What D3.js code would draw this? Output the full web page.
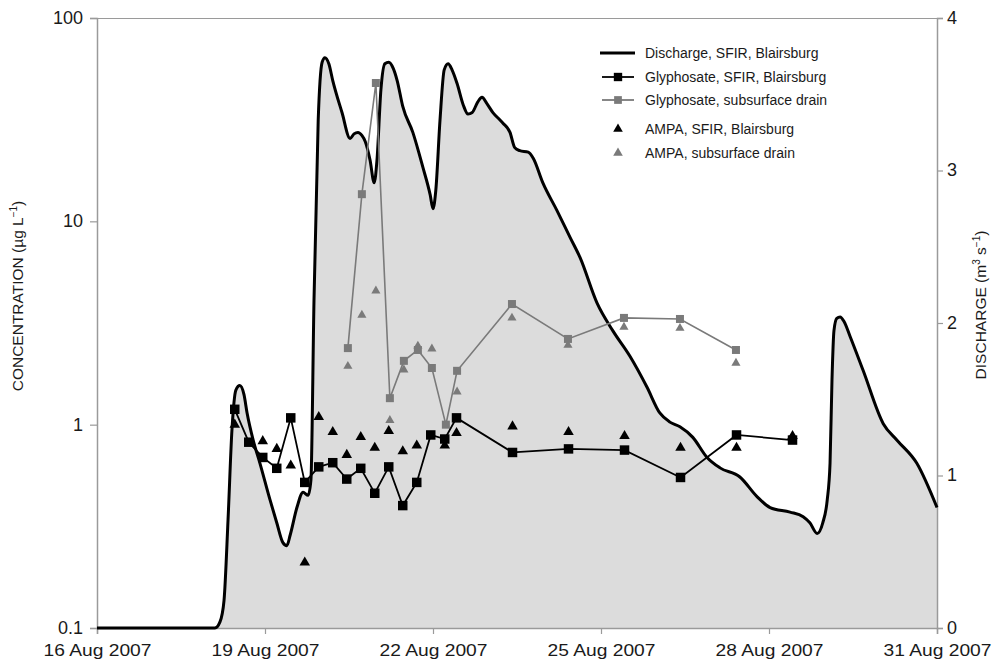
<!DOCTYPE html>
<html>
<head>
<meta charset="utf-8">
<script src="https://cdn.jsdelivr.net/npm/d3@7"></script>
<style>
  html, body { margin: 0; padding: 0; background: #fff; }
  svg { display: block; font-family: "Liberation Sans", Arial, sans-serif; }
</style>
</head>
<body>
<svg id="chart" width="996" height="661"></svg>
<script>
// ---------- DATA (time = days after 16 Aug 2007 00:00) ----------
const xTickDates = ["2007-08-16", "2007-08-19", "2007-08-22", "2007-08-25", "2007-08-28", "2007-08-31"];
const concTicks = [0.1, 1, 10, 100];
const dischargeTicks = [0, 1, 2, 3, 4];

const dischargeDay = [0, 2.107, 2.196, 2.268, 2.34, 2.41, 2.48, 2.55, 2.625, 2.68, 2.79, 2.91, 3.09, 3.21, 3.32, 3.39, 3.45, 3.57, 3.68, 3.77, 3.82, 3.875, 3.95, 4.02, 4.07, 4.14, 4.21, 4.375, 4.52, 4.59, 4.66, 4.73, 4.79, 4.875, 4.95, 5.0, 5.07, 5.14, 5.21, 5.29, 5.36, 5.46, 5.64, 5.82, 5.95, 6.0, 6.05, 6.125, 6.2, 6.27, 6.34, 6.43, 6.54, 6.625, 6.7, 6.8, 6.875, 6.96, 7.07, 7.2, 7.25, 7.375, 7.46, 7.55, 7.70, 7.79, 7.96, 8.21, 8.45, 8.625, 8.93, 9.21, 9.52, 9.82, 10.05, 10.23, 10.41, 10.64, 10.89, 11.125, 11.48, 11.79, 12.02, 12.375, 12.61, 12.73, 12.86, 12.96, 13.04, 13.09, 13.125, 13.16, 13.21, 13.27, 13.34, 13.45, 13.68, 14.04, 14.29, 14.64, 15.0];
const dischargeQ = [0, 0, 0.04, 0.18, 0.71, 1.30, 1.56, 1.59, 1.53, 1.41, 1.23, 1.08, 0.84, 0.69, 0.56, 0.54, 0.61, 0.79, 0.89, 0.87, 0.97, 2.15, 3.33, 3.71, 3.74, 3.70, 3.59, 3.38, 3.21, 3.24, 3.25, 3.23, 3.19, 3.07, 2.92, 3.07, 3.53, 3.70, 3.71, 3.67, 3.59, 3.42, 3.25, 3.02, 2.84, 2.75, 2.87, 3.33, 3.66, 3.70, 3.66, 3.57, 3.43, 3.37, 3.38, 3.45, 3.48, 3.44, 3.38, 3.33, 3.31, 3.25, 3.15, 3.13, 3.12, 3.08, 2.92, 2.74, 2.56, 2.43, 2.13, 1.95, 1.78, 1.58, 1.41, 1.35, 1.32, 1.25, 1.12, 1.05, 0.99, 0.86, 0.79, 0.76, 0.73, 0.69, 0.62, 0.69, 0.84, 1.08, 1.63, 1.95, 2.03, 2.04, 2.01, 1.91, 1.69, 1.34, 1.23, 1.08, 0.79];

const glySfirDay = [2.46, 2.71, 2.96, 3.21, 3.46, 3.71, 3.96, 4.21, 4.46, 4.71, 4.96, 5.21, 5.46, 5.71, 5.96, 6.21, 6.42, 7.42, 8.42, 9.42, 10.42, 11.42, 12.42];
const glySfirConc = [1.19, 0.82, 0.69, 0.61, 1.08, 0.52, 0.62, 0.65, 0.54, 0.61, 0.46, 0.62, 0.40, 0.52, 0.89, 0.85, 1.08, 0.73, 0.76, 0.75, 0.55, 0.89, 0.84];

const glyDrainDay = [4.48, 4.73, 4.98, 5.23, 5.48, 5.73, 5.98, 6.23, 6.43, 7.41, 8.41, 9.41, 10.41, 11.41];
const glyDrainConc = [2.38, 13.6, 47.9, 1.35, 2.06, 2.33, 1.90, 1.0, 1.84, 3.92, 2.64, 3.35, 3.31, 2.33];

const ampaSfirDay = [2.46, 2.96, 3.21, 3.46, 3.71, 3.96, 4.21, 4.46, 4.71, 4.96, 5.21, 5.46, 5.71, 6.21, 6.42, 7.42, 8.42, 9.42, 10.42, 11.42, 12.42];
const ampaSfirConc = [1.0, 0.83, 0.76, 0.63, 0.21, 1.09, 0.92, 0.71, 0.87, 0.77, 0.93, 0.74, 0.79, 0.79, 0.91, 0.98, 0.92, 0.88, 0.77, 0.77, 0.88];

const ampaDrainDay = [4.48, 4.73, 4.98, 5.23, 5.48, 5.73, 5.98, 6.43, 7.41, 8.41, 9.41, 10.41, 11.41];
const ampaDrainConc = [1.94, 3.46, 4.55, 1.05, 1.86, 2.44, 2.36, 1.45, 3.35, 2.46, 3.02, 2.98, 2.01];

const legendLabels = ["Discharge, SFIR, Blairsburg", "Glyphosate, SFIR, Blairsburg", "Glyphosate, subsurface drain", "AMPA, SFIR, Blairsburg", "AMPA, subsurface drain"];

// ---------- SETUP ----------
const svg = d3.select("#chart");
const L = 97, R = 937, T = 18, B = 628;
const t0 = new Date(2007, 7, 16).getTime();
const toDate = d => new Date(t0 + d * 864e5);
const parse = s => { const p = s.split("-").map(Number); return new Date(p[0], p[1] - 1, p[2]); };

const x = d3.scaleTime().domain([parse(xTickDates[0]), parse(xTickDates[xTickDates.length - 1])]).range([L, R]);
const yC = d3.scaleLog().domain([0.1, 100]).range([B, T]);
const yQ = d3.scaleLinear().domain([0, 4]).range([B, T]);

const axisColor = "#9a9a9a";
const textColor = "#1a1a1a";
const fillGray = "#dcdcdc";
const drainGray = "#7a7a7a";

// ---------- DISCHARGE AREA ----------
const qData = dischargeDay.map((d, i) => ({ t: toDate(d), q: dischargeQ[i] }));
svg.append("path")
  .datum(qData)
  .attr("fill", fillGray)
  .attr("d", d3.area().x(d => x(d.t)).y0(yQ(0)).y1(d => yQ(d.q)).curve(d3.curveMonotoneX));

// frame top line
svg.append("line").attr("x1", L).attr("x2", R).attr("y1", T + 0.5).attr("y2", T + 0.5)
  .attr("stroke", axisColor).attr("stroke-width", 1.2);

// ---------- AXES ----------
function styleAxis(g) {
  g.select(".domain").attr("stroke", axisColor).attr("stroke-width", 1.5);
  g.selectAll(".tick line").attr("stroke", axisColor).attr("stroke-width", 1.2);
  g.selectAll(".tick text").attr("fill", textColor).attr("font-family", "Liberation Sans, Arial, sans-serif");
}

const gx = svg.append("g").attr("transform", `translate(0,${B})`)
  .call(d3.axisBottom(x).tickValues(xTickDates.map(parse)).tickFormat(d3.timeFormat("%-d %b %Y")).tickSizeOuter(0).tickSize(6).tickPadding(10));
styleAxis(gx);
gx.selectAll(".tick text").attr("font-size", 17).attr("dy", "0.72em")
  .attr("textLength", 108).attr("lengthAdjust", "spacingAndGlyphs");

const gl = svg.append("g").attr("transform", `translate(${L},0)`)
  .call(d3.axisLeft(yC).tickValues(concTicks).tickFormat(d => d < 1 ? "0.1" : String(d)).tickSizeOuter(0).tickSize(7).tickPadding(7));
styleAxis(gl);
gl.selectAll(".tick text").attr("font-size", 18).attr("dy", "0.3em");

const gr = svg.append("g").attr("transform", `translate(${R},0)`)
  .call(d3.axisRight(yQ).tickValues(dischargeTicks).tickFormat(d3.format("d")).tickSizeOuter(0).tickSize(6).tickPadding(4));
styleAxis(gr);
gr.selectAll(".tick text").attr("font-size", 18).attr("dy", "0.3em");

// ---------- DISCHARGE LINE ----------
svg.append("path")
  .datum(qData)
  .attr("fill", "none").attr("stroke", "#000").attr("stroke-width", 3).attr("stroke-linejoin", "round")
  .attr("d", d3.line().x(d => x(d.t)).y(d => yQ(d.q)).curve(d3.curveMonotoneX));

// ---------- CONCENTRATION SERIES ----------
const sq = d3.symbol().type(d3.symbolSquare);
const tri = d3.symbol().type(d3.symbolTriangle);

function series(days, vals, color, lineW, symGen, symSize, drawLine) {
  const data = days.map((d, i) => ({ t: toDate(d), c: vals[i] }));
  const g = svg.append("g");
  if (drawLine) {
    g.append("path").datum(data).attr("fill", "none").attr("stroke", color).attr("stroke-width", lineW)
      .attr("d", d3.line().x(d => x(d.t)).y(d => yC(d.c)));
  }
  g.selectAll("path.m").data(data).join("path").attr("class", "m")
    .attr("transform", d => `translate(${x(d.t)},${yC(d.c)})`)
    .attr("d", symGen.size(symSize)())
    .attr("fill", color);
}

series(ampaDrainDay, ampaDrainConc, drainGray, 0, tri, 36, false);
series(glyDrainDay, glyDrainConc, drainGray, 1.6, sq, 64, true);
series(ampaSfirDay, ampaSfirConc, "#000", 0, tri, 48, false);
series(glySfirDay, glySfirConc, "#000", 1.8, sq, 90, true);

// ---------- AXIS TITLES ----------
const lt = svg.append("text").attr("transform", "translate(23,296) rotate(-90)")
  .attr("text-anchor", "middle").attr("font-size", 15.5).attr("fill", textColor);
lt.append("tspan").text("CONCENTRATION (µg L");
lt.append("tspan").attr("font-size", 10).attr("dy", -6).text("−1");
lt.append("tspan").attr("dy", 6).text(")");

const rt = svg.append("text").attr("transform", "translate(986,305) rotate(-90)")
  .attr("text-anchor", "middle").attr("font-size", 15.5).attr("fill", textColor);
rt.append("tspan").text("DISCHARGE (m");
rt.append("tspan").attr("font-size", 10).attr("dy", -6).text("3");
rt.append("tspan").attr("dy", 6).text(" s");
rt.append("tspan").attr("font-size", 10).attr("dy", -6).text("−1");
rt.append("tspan").attr("dy", 6).text(")");

// ---------- LEGEND ----------
const legendY = [53, 77, 100, 129, 153];
const lg = svg.append("g");
legendLabels.forEach((lab, i) => {
  const y = legendY[i];
  if (i === 0) {
    lg.append("line").attr("x1", 600).attr("x2", 635).attr("y1", y).attr("y2", y).attr("stroke", "#000").attr("stroke-width", 3);
  } else if (i === 1 || i === 2) {
    const c = i === 1 ? "#000" : drainGray;
    lg.append("line").attr("x1", 602).attr("x2", 634).attr("y1", y).attr("y2", y).attr("stroke", c).attr("stroke-width", 1.8);
    lg.append("path").attr("transform", `translate(618,${y})`).attr("d", sq.size(i === 1 ? 70 : 60)()).attr("fill", c);
  } else {
    const c = i === 3 ? "#000" : drainGray;
    lg.append("path").attr("transform", `translate(618,${y})`).attr("d", tri.size(40)()).attr("fill", c);
  }
  lg.append("text").attr("x", 645).attr("y", y).attr("dy", "0.35em").attr("font-size", 14).attr("fill", textColor).text(lab);
});
</script>
</body>
</html>
